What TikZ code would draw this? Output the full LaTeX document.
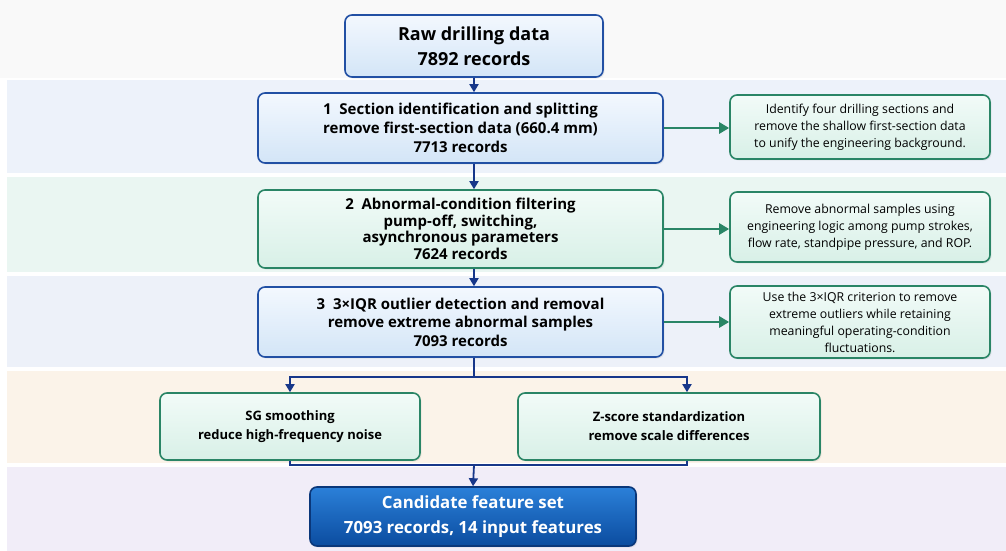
\documentclass[tikz,border=0pt]{standalone}
\usepackage{fontspec}
\setmainfont{Open Sans}
\usepackage{tikz}
\usetikzlibrary{
    arrows.meta,
    positioning,
    calc,
    shadows,
    backgrounds
}
\definecolor{ink}       {HTML}{17378A}
\definecolor{blueedge}  {HTML}{2250A4}
\definecolor{bluetop}   {HTML}{F3F8FE}
\definecolor{bluebot}   {HTML}{D3E5F7}
\definecolor{greenedge} {HTML}{2A8566}
\definecolor{greentop}  {HTML}{F2FBF8}
\definecolor{greenbot}  {HTML}{D8F0E7}
\definecolor{candtop}   {HTML}{2B80D9}
\definecolor{candbot}   {HTML}{0B4C9F}
\definecolor{candedge}  {HTML}{0A377A}
\definecolor{topbg}     {HTML}{F9F9F9}
\definecolor{b1}{HTML}{EDF2FA}
\definecolor{b2}{HTML}{EAF6F2}
\definecolor{b3}{HTML}{EDF1F9}
\definecolor{b4}{HTML}{FBF3E9}
\definecolor{b5}{HTML}{F1EDF8}

\begin{document}
\begin{tikzpicture}[
    x=1pt, y=-1pt,
    line join=miter,
    >={Triangle[length=8pt, width=9pt]},
    %% --- semantic styles ---
    mainbox/.style   = {rectangle, draw=blueedge, top color=bluetop,
                        bottom color=bluebot, line width=1.6pt,
                        rounded corners=7pt, minimum width=405pt,
                        minimum height=70pt, align=center, inner sep=2pt,
                        font=\bfseries\fontsize{15}{19}\selectfont,
                        drop shadow={opacity=0.12, shadow xshift=1.5pt,
                                     shadow yshift=-1.5pt}},
    greenmain/.style = {mainbox, draw=greenedge, top color=greentop,
                        bottom color=greenbot},
    notebox/.style   = {greenmain, minimum width=260pt,
                        font=\fontsize{12.3}{17}\selectfont},
    filtbox/.style   = {greenmain, minimum height=67pt,
                        font=\bfseries\fontsize{13}{19}\selectfont},
    candbox/.style   = {mainbox, draw=candedge, top color=candtop,
                        bottom color=candbot, text=white,
                        minimum width=326pt, minimum height=59pt,
                        font=\bfseries\fontsize{16.8}{25}\selectfont},
    flow/.style      = {draw=ink, line width=1.8pt},
    flowarr/.style   = {flow, ->},
    noteflow/.style  = {-{Triangle[length=10pt, width=11pt]},
                        draw=greenedge, line width=2.8pt}
]
\useasboundingbox (0,0) rectangle (1006,551);

%% =====================================================
%% Background bands
%% =====================================================
\fill[topbg] (0,0) rectangle (1006,551);
\fill[white] (0,78) rectangle (1006,551);
\fill[b1] (7, 80) rectangle (1006,173);
\fill[b2] (7,177) rectangle (1006,272);
\fill[b3] (7,276) rectangle (1006,367);
\fill[b4] (7,371) rectangle (1006,463);
\fill[b5] (7,467) rectangle (1006,551);

%% =====================================================
%% INPUT
%% =====================================================
\node[mainbox, minimum width=258pt, minimum height=62pt,
      font=\bfseries\fontsize{18}{25}\selectfont] (RAW) at (474, 46)
    {Raw drilling data\\7892 records};

%% =====================================================
%% Processing steps
%% =====================================================
\node[mainbox] (S1) at (460.5, 128) {%
    1\ \ Section identification and splitting\\
    remove first-section data (660.4 mm)\\
    7713 records};
\node[greenmain, minimum height=78pt,
      font=\bfseries\fontsize{15}{16.5}\selectfont] (S2) at (460.5, 229) {%
    2\ \ Abnormal-condition filtering\\
    pump-off, switching,\\
    asynchronous parameters\\
    7624 records};
\node[mainbox, font=\bfseries\fontsize{15}{18.5}\selectfont]
    (S3) at (460.5, 322) {%
    3\ \ 3×IQR outlier detection and removal\\
    remove extreme abnormal samples\\
    7093 records};

%% notes on the right
\node[notebox, minimum height=64pt] (N1) at (860, 127) {%
    Identify four drilling sections and\\
    remove the shallow first-section data\\
    to unify the engineering background.};
\node[notebox, minimum height=70pt] (N2) at (860, 227) {%
    Remove abnormal samples using\\
    engineering logic among pump strokes,\\
    flow rate, standpipe pressure, and ROP.};
\node[notebox, minimum height=72pt] (N3) at (860, 322) {%
    Use the 3×IQR criterion to remove\\
    extreme outliers while retaining\\
    meaningful operating-condition\\
    fluctuations.};

\foreach \S/\N in {S1/N1, S2/N2, S3/N3}
    \draw[noteflow] (\S.east) -- (\S.east -| \N.west);

\draw[flowarr] (RAW.south) -- (RAW.south |- S1.north);
\draw[flowarr] (RAW.south |- S1.south) -- (RAW.south |- S2.north);
\draw[flowarr] (RAW.south |- S2.south) -- (RAW.south |- S3.north);

%% =====================================================
%% Smoothing and scaling, side by side
%% =====================================================
\node[filtbox, minimum width=260pt] (SG) at (290, 426.5)
    {SG smoothing\\reduce high-frequency noise};
\node[filtbox, minimum width=302pt] (ZS) at (669, 426.5)
    {Z-score standardization\\remove scale differences};

\coordinate (SPLIT) at (474, 377);
\coordinate (ZX)    at (687, 377);
\coordinate (MERGE) at (474, 465);

\draw[flow] (RAW.south |- S3.south) -- (SPLIT);
\draw[flowarr] (SPLIT) -| (SG.north);
\draw[flowarr] (SPLIT) -| (ZX |- ZS.north);

%% =====================================================
%% OUTPUT
%% =====================================================
\node[candbox] (CF) at (473, 516.5)
    {Candidate feature set\\7093 records, 14 input features};

\draw[flow] (SG.south) |- (MERGE);
\draw[flow] (ZX |- ZS.south) |- (MERGE);
\draw[flowarr] (MERGE) -- (CF.north);

\end{tikzpicture}
\end{document}
